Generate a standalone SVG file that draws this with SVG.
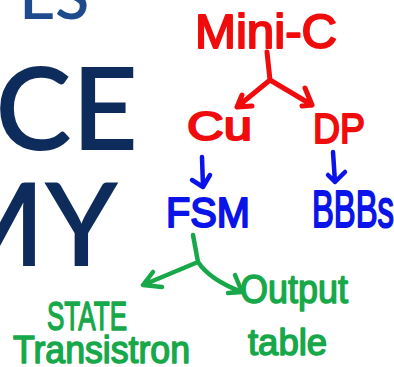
<svg xmlns="http://www.w3.org/2000/svg" width="394" height="367" viewBox="0 0 394 367">
<style>
.bg{font-family:Lato,"Liberation Sans",sans-serif;font-weight:600;fill:#0d2b5b;text-anchor:end}
.hw{font-family:"Liberation Sans","DejaVu Sans",sans-serif;stroke-linejoin:round}
.r{fill:#f00c0c;stroke:#f00c0c;stroke-width:2}
.b{fill:#0a14e8;stroke:#0a14e8;stroke-width:2}
.g{fill:#17a84a;stroke:#17a84a;stroke-width:1.5}
.lr{fill:none;stroke:#f00c0c;stroke-width:5;stroke-linecap:round;stroke-linejoin:round}
.lb{fill:none;stroke:#0a14e8;stroke-width:4.5;stroke-linecap:round;stroke-linejoin:round}
.lg{fill:none;stroke:#17a84a;stroke-width:4.5;stroke-linecap:round;stroke-linejoin:round}
</style>
<rect width="394" height="367" fill="#ffffff"/>
<g id="background">
<text class="bg" x="89" y="19" font-size="62" style="fill:#1f4b8c">ES</text>
<text class="bg" x="138" y="150" font-size="115">CE</text>
<text class="bg" x="118" y="266" font-size="115">MY</text>
</g>
<g id="connectors">
<path class="lr" d="M267 52 L270 80 M270 80 L237 107 M242 95 L237 107 L252 106 M270 80 L312 105 M305 88 L312 105 L302 106"/>
<path class="lb" d="M202 157 L203 187 M192 180 L203 187 L210 175"/>
<path class="lb" d="M333 152 L335 182 M328 175 L335 182 L345 172"/>
<path class="lg" d="M193 235 L198 262 M198 262 L143 285 M153 272 L143 285 L162 287 M198 262 Q210 280 242 292 M235 275 L242 292 L228 293"/>
</g>
<g id="mini-c"><text class="hw r" x="195" y="48" font-size="48" textLength="142" lengthAdjust="spacingAndGlyphs">Mini-C</text></g>
<g id="cu"><text class="hw r" x="187" y="140" font-size="40" textLength="65" lengthAdjust="spacingAndGlyphs">Cu</text></g>
<g id="dp"><text class="hw r" x="313" y="143" font-size="43" textLength="52" lengthAdjust="spacingAndGlyphs">DP</text></g>
<g id="fsm"><text class="hw b" x="166" y="227" font-size="42" textLength="84" lengthAdjust="spacingAndGlyphs">FSM</text></g>
<g id="bbbs"><text class="hw b" x="312" y="227" font-size="51" textLength="82" lengthAdjust="spacingAndGlyphs">BBBs</text></g>
<g id="state-transition">
<text class="hw g" x="47" y="330" font-size="40" textLength="80" lengthAdjust="spacingAndGlyphs">STATE</text>
<text class="hw g" x="13" y="363" font-size="38" textLength="177" lengthAdjust="spacingAndGlyphs">Transistron</text>
</g>
<g id="output-table">
<text class="hw g" x="240" y="303" font-size="40" textLength="108" lengthAdjust="spacingAndGlyphs">Output</text>
<text class="hw g" x="248" y="355" font-size="36" textLength="79" lengthAdjust="spacingAndGlyphs">table</text>
</g>
</svg>
